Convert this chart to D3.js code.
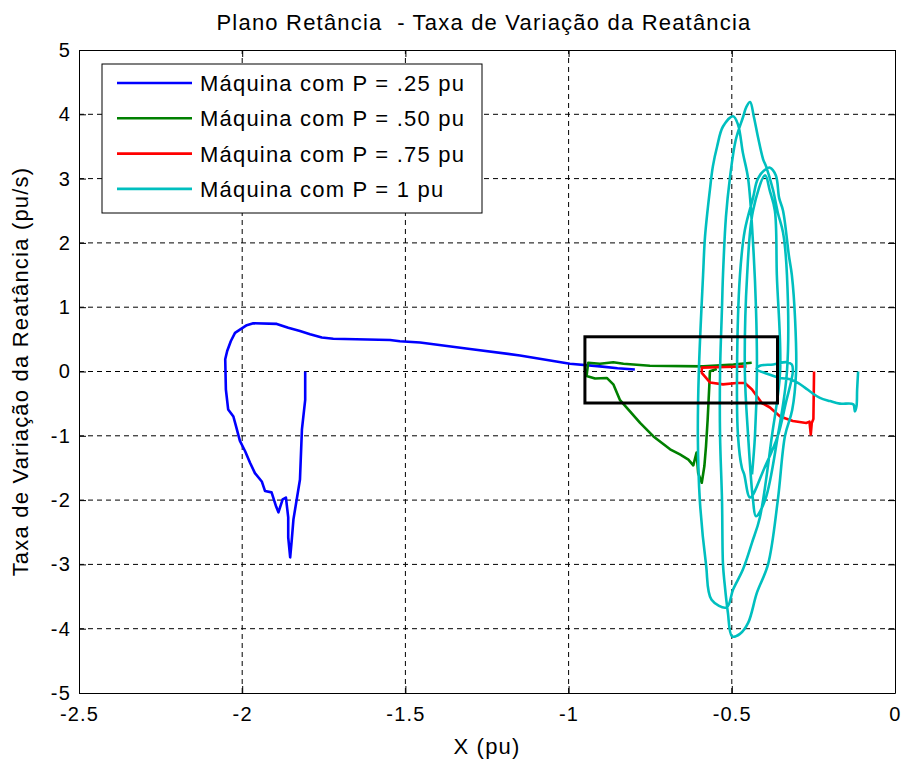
<!DOCTYPE html>
<html>
<head>
<meta charset="utf-8">
<script src="https://cdn.jsdelivr.net/npm/d3@7/dist/d3.min.js"></script>
<style>
  html, body { margin: 0; padding: 0; background: #ffffff; }
  svg text { font-family: "Liberation Sans", Arial, sans-serif; fill: #000; letter-spacing: 1.2px; }
</style>
</head>
<body>
<svg id="chart" width="904" height="764"></svg>
<script>
// Phase-plane trajectories: reactance X (pu) vs its rate of change (pu/s)
const xTicks = [-2.5, -2, -1.5, -1, -0.5, 0];
const xTickLabels = ["-2.5", "-2", "-1.5", "-1", "-0.5", "0"];
const yTicks = [-5, -4, -3, -2, -1, 0, 1, 2, 3, 4, 5];
const yTickLabels = ["-5", "-4", "-3", "-2", "-1", "0", "1", "2", "3", "4", "5"];

const seriesNames = [
  "Máquina com P = .25 pu",
  "Máquina com P = .50 pu",
  "Máquina com P = .75 pu",
  "Máquina com P = 1 pu"
];
const seriesColors = ["#0000ff", "#008000", "#ff0000", "#00bfbf"];

// P = 0.25 pu
const traceP025 = [
  [-1.807, 0.00], [-1.807, -0.44], [-1.817, -0.90], [-1.823, -1.68], [-1.833, -1.99],
  [-1.843, -2.30], [-1.848, -2.61], [-1.853, -2.89], [-1.859, -2.58], [-1.859, -2.27],
  [-1.866, -1.96], [-1.876, -1.99], [-1.889, -2.19], [-1.896, -2.10], [-1.910, -1.88],
  [-1.930, -1.86], [-1.940, -1.71], [-1.961, -1.58], [-1.976, -1.42], [-1.991, -1.24],
  [-2.007, -1.08], [-2.019, -0.85], [-2.027, -0.70], [-2.043, -0.59], [-2.050, -0.28],
  [-2.052, 0.19], [-2.046, 0.32], [-2.035, 0.47], [-2.022, 0.60], [-2.007, 0.65],
  [-1.986, 0.72], [-1.966, 0.75], [-1.894, 0.74], [-1.859, 0.68], [-1.823, 0.63],
  [-1.792, 0.58], [-1.756, 0.53], [-1.721, 0.51], [-1.547, 0.49], [-1.517, 0.47],
  [-1.455, 0.45], [-1.302, 0.35], [-1.149, 0.25], [-0.996, 0.12], [-0.904, 0.08],
  [-0.850, 0.05], [-0.797, 0.03]
];

// P = 0.50 pu
const traceP050 = [
  [-0.439, 0.135], [-0.495, 0.11], [-0.587, 0.08], [-0.751, 0.09], [-0.832, 0.12],
  [-0.863, 0.145], [-0.904, 0.12], [-0.940, 0.135], [-0.945, -0.07], [-0.919, -0.11],
  [-0.883, -0.10], [-0.863, -0.20], [-0.843, -0.44], [-0.812, -0.62], [-0.781, -0.80],
  [-0.740, -1.01], [-0.689, -1.21], [-0.659, -1.29], [-0.633, -1.37], [-0.618, -1.46],
  [-0.608, -1.26], [-0.603, -1.58], [-0.592, -1.73], [-0.584, -1.47], [-0.579, -1.16],
  [-0.574, -0.75], [-0.569, -0.23], [-0.567, 0.005], [-0.546, 0.04]
];

// P = 0.75 pu
const traceP075 = [
  [-0.455, 0.08], [-0.520, 0.07], [-0.592, 0.06], [-0.592, -0.02], [-0.567, -0.17],
  [-0.527, -0.20], [-0.485, -0.18], [-0.460, -0.18], [-0.438, -0.28], [-0.408, -0.49],
  [-0.383, -0.56], [-0.352, -0.70], [-0.313, -0.77], [-0.272, -0.80], [-0.262, -0.78],
  [-0.258, -0.98], [-0.255, -0.80], [-0.250, -0.74], [-0.248, 0.00]
];

// P = 1 pu
const traceP100 = [
  [-0.113, 0.00], [-0.116, -0.28], [-0.118, -0.54], [-0.123, -0.62], [-0.128, -0.51],
  [-0.169, -0.50], [-0.199, -0.46], [-0.230, -0.41], [-0.255, -0.33], [-0.276, -0.25],
  [-0.296, -0.18], [-0.322, -0.12], [-0.352, -0.10], [-0.383, -0.05], [-0.424, 0.04],
  [-0.414, 0.09], [-0.373, 0.11], [-0.332, 0.145], [-0.316, 0.11], [-0.313, 0.00],
  [-0.335, -0.50], [-0.359, -1.00], [-0.400, -1.50], [-0.444, -1.96], [-0.462, -1.60],
  [-0.469, -1.50], [-0.481, -1.00], [-0.484, 0.00], [-0.475, 1.50], [-0.460, 2.20],
  [-0.435, 2.70], [-0.420, 3.00], [-0.395, 3.15], [-0.383, 3.17], [-0.365, 3.05],
  [-0.355, 2.70], [-0.343, 2.50], [-0.325, 1.80], [-0.316, 1.50], [-0.306, 0.80],
  [-0.303, 0.00], [-0.315, -0.60], [-0.337, -1.00], [-0.359, -2.00], [-0.389, -3.00],
  [-0.423, -3.44], [-0.450, -3.91], [-0.475, -4.08], [-0.499, -4.12], [-0.512, -3.75],
  [-0.522, -3.30], [-0.527, -3.00], [-0.530, -2.00], [-0.536, -1.00], [-0.536, 0.00],
  [-0.530, 1.00], [-0.527, 1.50], [-0.518, 2.40], [-0.506, 3.00], [-0.488, 3.60],
  [-0.466, 3.95], [-0.455, 4.12], [-0.444, 4.19], [-0.432, 3.95], [-0.420, 3.65],
  [-0.404, 3.30], [-0.395, 3.19], [-0.374, 2.83], [-0.359, 2.47], [-0.343, 2.16],
  [-0.331, 1.50], [-0.331, 0.00], [-0.359, -1.00], [-0.398, -2.00], [-0.426, -2.25],
  [-0.435, -2.00], [-0.450, -1.00], [-0.460, 0.00], [-0.453, 1.50], [-0.435, 2.50],
  [-0.398, 3.05], [-0.383, 2.80], [-0.368, 2.50], [-0.362, 1.50], [-0.352, 0.00],
  [-0.377, -1.00], [-0.414, -2.27], [-0.438, -2.66], [-0.466, -3.08], [-0.496, -3.39],
  [-0.516, -3.67], [-0.562, -3.55], [-0.579, -3.00], [-0.598, -2.00], [-0.604, -1.00],
  [-0.601, 0.00], [-0.588, 1.50], [-0.582, 2.10], [-0.567, 2.83], [-0.558, 3.19],
  [-0.545, 3.50], [-0.527, 3.81], [-0.496, 3.97], [-0.481, 3.84], [-0.466, 3.40],
  [-0.450, 3.00], [-0.435, 2.00], [-0.426, 1.00], [-0.423, 0.00], [-0.429, -1.00],
  [-0.438, -1.60]
];

// highlighted region around the origin of the rate axis
const zoomBoxX = [-0.95, -0.36];
const zoomBoxY = [-0.49, 0.54];

const traces = [traceP025, traceP050, traceP075, traceP100];

const svg = d3.select("#chart");
const margin = { left: 79, top: 50, right: 9, bottom: 71 };
const W = 904, H = 764;
const x = d3.scaleLinear().domain([-2.5, 0]).range([margin.left, W - margin.right]);
const y = d3.scaleLinear().domain([-5, 5]).range([H - margin.bottom, margin.top]);

const plot = svg.append("g");

// dashed grid
plot.append("g").selectAll("line").data(xTicks.slice(1, -1)).join("line")
  .attr("x1", d => x(d)).attr("x2", d => x(d))
  .attr("y1", y(-5)).attr("y2", y(5))
  .attr("stroke", "#000").attr("stroke-width", 1).attr("stroke-dasharray", "5,4");
plot.append("g").selectAll("line").data(yTicks.slice(1, -1)).join("line")
  .attr("x1", x(-2.5)).attr("x2", x(0))
  .attr("y1", d => y(d)).attr("y2", d => y(d))
  .attr("stroke", "#000").attr("stroke-width", 1).attr("stroke-dasharray", "5,4");

// trajectories (the oscillating P = 1 pu trace is drawn smoothed)
const straight = d3.line().x(d => x(d[0])).y(d => y(d[1]));
const smooth = d3.line().x(d => x(d[0])).y(d => y(d[1])).curve(d3.curveCatmullRom.alpha(0.5));
traces.forEach((t, i) => {
  plot.append("path").datum(t)
    .attr("d", i === 3 ? smooth : straight)
    .attr("fill", "none")
    .attr("stroke", seriesColors[i])
    .attr("stroke-width", 2.6)
    .attr("stroke-linejoin", "round");
});

// zoom box
plot.append("rect")
  .attr("x", x(zoomBoxX[0])).attr("y", y(zoomBoxY[1]))
  .attr("width", x(zoomBoxX[1]) - x(zoomBoxX[0]))
  .attr("height", y(zoomBoxY[0]) - y(zoomBoxY[1]))
  .attr("fill", "none").attr("stroke", "#000").attr("stroke-width", 3);

// axes with inward ticks on all four sides
const fmtX = d => xTickLabels[xTicks.indexOf(d)];
const fmtY = d => yTickLabels[yTicks.indexOf(d)];
const gB = svg.append("g").attr("transform", `translate(0,${y(-5)})`)
  .call(d3.axisBottom(x).tickValues(xTicks).tickFormat(fmtX).tickSizeInner(-7).tickSizeOuter(0).tickPadding(14));
const gT = svg.append("g").attr("transform", `translate(0,${y(5)})`)
  .call(d3.axisTop(x).tickValues(xTicks).tickFormat("").tickSizeInner(-7).tickSizeOuter(0));
const gL = svg.append("g").attr("transform", `translate(${x(-2.5)},0)`)
  .call(d3.axisLeft(y).tickValues(yTicks).tickFormat(fmtY).tickSizeInner(-7).tickSizeOuter(0).tickPadding(8));
const gR = svg.append("g").attr("transform", `translate(${x(0)},0)`)
  .call(d3.axisRight(y).tickValues(yTicks).tickFormat("").tickSizeInner(-7).tickSizeOuter(0));
[gB, gT, gL, gR].forEach(g => {
  g.select(".domain").attr("stroke", "#000").attr("stroke-width", 1);
  g.selectAll(".tick line").attr("stroke", "#000");
  g.selectAll("text").attr("font-size", 20).attr("font-family", "Liberation Sans, Arial, sans-serif").attr("fill", "#000");
});

// title and axis labels
svg.append("text").attr("x", 484).attr("y", 30).attr("text-anchor", "middle")
  .attr("font-size", 22).text("Plano Retância  - Taxa de Variação da Reatância")
  .attr("xml:space", "preserve").style("white-space", "pre");
svg.append("text").attr("x", 487).attr("y", 754).attr("text-anchor", "middle")
  .attr("font-size", 22).text("X (pu)");
svg.append("text").attr("transform", `translate(28,${(y(5) + y(-5)) / 2}) rotate(-90)`)
  .attr("text-anchor", "middle").attr("font-size", 22)
  .text("Taxa de Variação da Reatância (pu/s)");

// legend
const lg = svg.append("g");
lg.append("rect").attr("x", 102).attr("y", 64).attr("width", 380).attr("height", 149)
  .attr("fill", "#fff").attr("stroke", "#000").attr("stroke-width", 1);
seriesNames.forEach((name, i) => {
  const cy = 83 + i * 35.3;
  lg.append("line").attr("x1", 117).attr("x2", 192).attr("y1", cy).attr("y2", cy)
    .attr("stroke", seriesColors[i]).attr("stroke-width", 2.6);
  lg.append("text").attr("x", 200).attr("y", cy + 8).attr("font-size", 22).text(name);
});
</script>
</body>
</html>
